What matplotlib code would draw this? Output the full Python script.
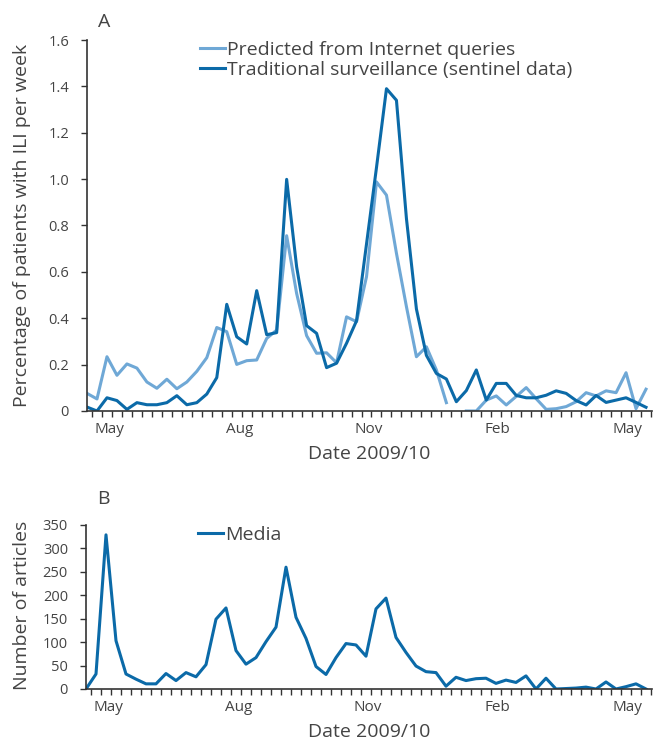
import numpy as np
import matplotlib
matplotlib.use("Agg")
import matplotlib.pyplot as plt

plt.rcParams['font.family'] = ['Open Sans', 'DejaVu Sans']

# weekly values, late April 2009 to mid May 2010
predicted = [0.076, 0.052, 0.234, 0.154, 0.203, 0.185, 0.125, 0.098, 0.137, 0.096,
             0.125, 0.171, 0.23, 0.36, 0.342, 0.201, 0.217, 0.22, 0.313, 0.349,
             0.756, 0.507, 0.325, 0.249, 0.251, 0.208, 0.406, 0.385, 0.579, 0.988,
             0.931, 0.68, 0.45, 0.234, 0.277, 0.177, 0.036, np.nan, 0.0, 0.0,
             0.047, 0.065, 0.026, 0.063, 0.101, 0.053, 0.007, 0.01, 0.019, 0.04,
             0.079, 0.065, 0.087, 0.079, 0.165, 0.01, 0.094]
sentinel = [0.017, 0.0, 0.057, 0.045, 0.007, 0.036, 0.027, 0.027, 0.036, 0.066,
            0.027, 0.036, 0.073, 0.144, 0.46, 0.32, 0.289, 0.519, 0.329, 0.338,
            0.999, 0.622, 0.368, 0.335, 0.187, 0.206, 0.292, 0.389, 0.72, 1.05,
            1.39, 1.34, 0.83, 0.44, 0.24, 0.162, 0.138, 0.04, 0.088, 0.177,
            0.047, 0.119, 0.119, 0.067, 0.057, 0.057, 0.068, 0.087, 0.076, 0.045,
            0.026, 0.067, 0.037, 0.047, 0.057, 0.037, 0.016]
media = [0, 32, 329, 103, 32, 21, 11, 11, 33, 18,
         35, 26, 52, 149, 173, 82, 53, 67, 101, 132,
         260, 153, 108, 48, 31, 67, 97, 94, 70, 171,
         194, 110, 78, 49, 37, 35, 6, 25, 18, 22,
         23, 12, 19, 14, 28, 0, 23, 0, 1, 2,
         4, 0, 15, 0, 5, 11, 0]
month_labels = ['May', 'Aug', 'Nov', 'Feb', 'May']
month_pos = [2.2, 15.3, 28.2, 41.1, 54.1]

weeks = np.arange(len(sentinel))
light = '#6fa8d6'
dark = '#0b6aa8'
txt = '#444444'
axc = '#333333'

fig = plt.figure(figsize=(6.53, 7.44), dpi=100)
axA = fig.add_axes([87/653, 1-411/744, 565/653, 371/744])
axB = fig.add_axes([86/653, 1-689/744, 566/653, 164/744])


def style(ax):
    for s in ['top', 'right']:
        ax.spines[s].set_visible(False)
    for s in ['left', 'bottom']:
        ax.spines[s].set_color(axc)
        ax.spines[s].set_linewidth(1.2)
    ax.set_xlim(0, 56.6)
    ax.set_xticks(month_pos)
    ax.set_xticklabels(month_labels)
    ax.set_xticks(weeks + 0.5, minor=True)
    ax.tick_params(axis='x', which='major', length=0, pad=8, labelsize=11, labelcolor=txt)
    ax.tick_params(axis='x', which='minor', length=4, width=1, color=axc, direction='out')
    ax.tick_params(axis='y', length=4, width=1, color=axc, pad=9, labelsize=10.5, labelcolor=txt)


legend_kw = dict(bbox_transform=fig.transFigure, frameon=False, fontsize=14,
                 handlelength=1.3, handletextpad=0.1, borderpad=0, borderaxespad=0,
                 labelspacing=0.08, labelcolor=txt)

axA.plot(weeks, predicted, color=light, lw=2.2, label='Predicted from Internet queries')
axA.plot(weeks, sentinel, color=dark, lw=2.2, label='Traditional surveillance (sentinel data)')
axA.set_ylim(0, 1.6)
axA.set_yticks(np.arange(0, 1.61, 0.2))
axA.set_yticklabels(['0'] + ['%.1f' % v for v in np.arange(0.2, 1.61, 0.2)])
style(axA)
axA.set_xlabel('Date 2009/10', fontsize=14, color=txt, labelpad=6)
axA.legend(loc='upper left', bbox_to_anchor=(200/653, 1-41/744), **legend_kw)

axB.plot(weeks, media, color=dark, lw=2.2, label='Media')
axB.set_ylim(0, 350)
axB.set_yticks(range(0, 351, 50))
style(axB)
axB.set_xlabel('Date 2009/10', fontsize=14, color=txt, labelpad=6)
axB.legend(loc='upper left', bbox_to_anchor=(198/653, 1-526/744), **legend_kw)

fig.text(98/653, 1-22/744, 'A', fontsize=14, color=txt, ha='left', va='center')
fig.text(97/653, 1-499/744, 'B', fontsize=14, color=txt, ha='left', va='center')
fig.text(22/653, 1-225/744, 'Percentage of patients with ILI per week', rotation=90,
         fontsize=14, color=txt, ha='center', va='center')
fig.text(22/653, 1-605/744, 'Number of articles', rotation=90,
         fontsize=14, color=txt, ha='center', va='center')

fig.savefig('out.png', dpi=100)
